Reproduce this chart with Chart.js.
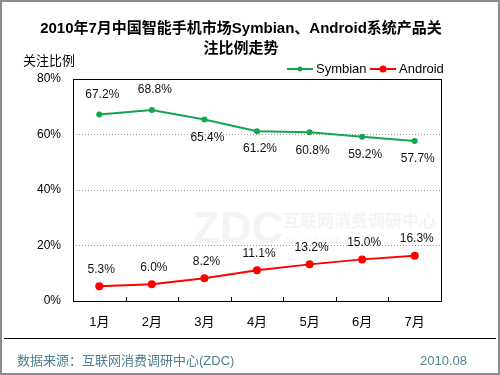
<!DOCTYPE html>
<html>
<head>
<meta charset="utf-8">
<script src="https://cdn.jsdelivr.net/npm/chart.js@4/dist/chart.umd.min.js"></script>
<style>
  html, body { margin: 0; padding: 0; background: #fff; }
  #wrap { width: 500px; height: 375px; position: relative; }
</style>
</head>
<body>
<div id="wrap"><canvas id="myLineChart"></canvas></div>
<script>
// data
const months = ['1月', '2月', '3月', '4月', '5月', '6月', '7月'];
const symbian = [67.2, 68.8, 65.4, 61.2, 60.8, 59.2, 57.7];
const android = [5.3, 6.0, 8.2, 11.1, 13.2, 15.0, 16.3];
const symbianLabelBelow = [false, false, true, true, true, true, true];
const yTicks = [0, 20, 40, 60, 80];

const titleLines = ['2010年7月中国智能手机市场Symbian、Android系统产品关', '注比例走势'];
const yTitle = '关注比例';
const sourceText = '数据来源：互联网消费调研中心(ZDC)';
const dateText = '2010.08';

const latin = 'Arial, "Liberation Sans", sans-serif';
const cjk = 'Arial, "Liberation Sans", "Noto Sans CJK SC", sans-serif';

// page decorations, legend, labels and inward x ticks
const decor = {
  id: 'decor',
  beforeDraw(chart) {
    const ctx = chart.ctx;
    ctx.save();
    ctx.fillStyle = '#fff';
    ctx.fillRect(0, 0, chart.width, chart.height);
    // faint watermark
    ctx.globalAlpha = 0.07;
    ctx.fillStyle = '#666';
    ctx.font = 'bold 44px ' + latin;
    ctx.fillText('ZDC', 193, 243);
    ctx.font = 'bold 17px "Noto Sans CJK SC", sans-serif';
    ctx.fillText('互联网消费调研中心', 283, 227);
    ctx.font = '11px ' + latin;
    ctx.fillText('zdc.zol.com.cn', 283, 243);
    ctx.restore();
  },
  afterDraw(chart) {
    const ctx = chart.ctx;
    const a = chart.chartArea;
    const x = chart.scales.x, y = chart.scales.y;
    ctx.save();
    // outer frame
    ctx.strokeStyle = '#8c8c8c';
    ctx.lineWidth = 2;
    ctx.strokeRect(1, 1, chart.width - 2, chart.height - 2);
    // plot border
    ctx.strokeStyle = '#000';
    ctx.lineWidth = 1;
    ctx.strokeRect(a.left + 0.5, a.top + 0.5, a.right - a.left, a.bottom - a.top);
    // inward ticks between categories
    for (let i = 1; i < months.length; i++) {
      const px = Math.round((x.getPixelForValue(i - 1) + x.getPixelForValue(i)) / 2) + 0.5;
      ctx.beginPath();
      ctx.moveTo(px, a.bottom);
      ctx.lineTo(px, a.bottom - 4);
      ctx.stroke();
    }
    // title
    ctx.fillStyle = '#000';
    ctx.textAlign = 'center';
    ctx.textBaseline = 'middle';
    ctx.font = 'bold 15px ' + cjk;
    ctx.fillText(titleLines[0], 241, 29);
    ctx.fillText(titleLines[1], 241, 49);
    // y title
    ctx.font = '13px ' + cjk;
    ctx.textAlign = 'left';
    ctx.fillText(yTitle, 23, 61);
    // legend
    const legendX = [287, 370];
    ctx.font = '13px ' + latin;
    chart.data.datasets.forEach((ds, i) => {
      const lx = legendX[i];
      ctx.strokeStyle = ds.borderColor;
      ctx.fillStyle = ds.borderColor;
      ctx.lineWidth = 2;
      ctx.beginPath();
      ctx.moveTo(lx, 69);
      ctx.lineTo(lx + 26, 69);
      ctx.stroke();
      ctx.beginPath();
      ctx.arc(lx + 13, 69, ds.pointRadius - 0.5, 0, Math.PI * 2);
      ctx.fill();
      ctx.fillStyle = '#000';
      ctx.fillText(ds.label, lx + 29, 69);
    });
    // data labels
    ctx.font = '12px ' + latin;
    ctx.fillStyle = '#111';
    ctx.textAlign = 'center';
    symbian.forEach((v, i) => {
      const px = x.getPixelForValue(i);
      const py = y.getPixelForValue(v);
      ctx.fillText(v.toFixed(1) + '%', px + 3, symbianLabelBelow[i] ? py + 18 : py - 20);
    });
    android.forEach((v, i) => {
      const px = x.getPixelForValue(i);
      const py = y.getPixelForValue(v);
      ctx.fillText(v.toFixed(1) + '%', px + 2, py - 17);
    });
    // footer
    ctx.strokeStyle = '#000';
    ctx.lineWidth = 1;
    ctx.beginPath();
    ctx.moveTo(4, 338.5);
    ctx.lineTo(496, 338.5);
    ctx.stroke();
    ctx.fillStyle = '#4f7f8f';
    ctx.font = '13px ' + cjk;
    ctx.textAlign = 'left';
    ctx.fillText(sourceText, 17, 361);
    ctx.textAlign = 'right';
    ctx.fillText(dateText, 467, 361);
    ctx.restore();
  }
};

const lineData = {
  labels: months,
  datasets: [{
    label: 'Symbian',
    data: symbian,
    borderColor: '#12a64e',
    backgroundColor: '#12a64e',
    borderWidth: 2,
    pointRadius: 3,
    pointBorderWidth: 0,
    pointBackgroundColor: '#12a64e',
    tension: 0
  }, {
    label: 'Android',
    data: android,
    borderColor: '#ff0000',
    backgroundColor: '#ff0000',
    borderWidth: 2,
    pointRadius: 4,
    pointBorderWidth: 0,
    pointBackgroundColor: '#ff0000',
    tension: 0
  }]
};

const configLine = {
  type: 'line',
  data: lineData,
  plugins: [decor],
  options: {
    responsive: true,
    maintainAspectRatio: false,
    animation: false,
    layout: { padding: { top: 79, right: 59, bottom: 0, left: 0 } },
    plugins: {
      title: { display: false },
      tooltip: { enabled: false },
      legend: { display: false }
    },
    scales: {
      x: {
        offset: true,
        grid: { display: false, drawTicks: false },
        border: { display: false },
        ticks: { color: '#000', font: { size: 13, family: cjk }, padding: 14 },
        afterFit: (s) => { s.height = 74; }
      },
      y: {
        min: 0,
        max: 80,
        afterBuildTicks: (s) => { s.ticks = yTicks.map(v => ({ value: v })); },
        grid: {
          color: (c) => (c.tick.value === 0 || c.tick.value === 80 ? 'rgba(0,0,0,0)' : '#9a9a9a'),
          drawTicks: false,
          lineWidth: 1
        },
        border: { display: false, dash: [1, 2] },
        ticks: { color: '#000', font: { size: 12, family: latin }, padding: 12, callback: (v) => v + '%' },
        afterFit: (s) => { s.width = 73; }
      }
    }
  }
};

var ordersChart = document.getElementById('myLineChart');
let chart1 = new Chart(ordersChart, configLine);
</script>
</body>
</html>
